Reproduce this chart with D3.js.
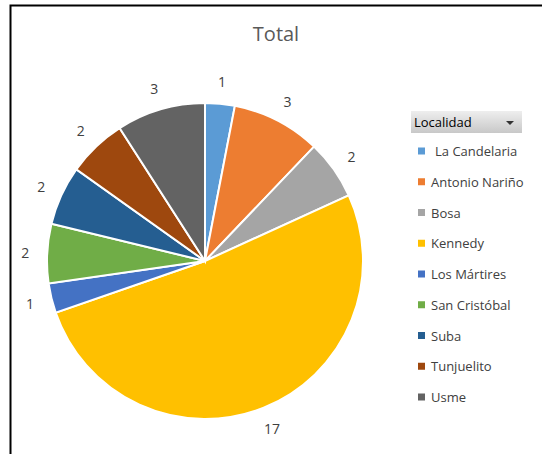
<!DOCTYPE html>
<html>
<head>
<meta charset="utf-8">
<script src="https://cdn.jsdelivr.net/npm/d3@7"></script>
<style>
    body { margin: 0; background: #fff; }
    text { font-family: "Open Sans", "Noto Sans", sans-serif; }
</style>
</head>
<body>
<svg id="chart" width="542" height="454"></svg>
<script>
const localidades = ["La Candelaria", "Antonio Nariño", "Bosa", "Kennedy", "Los Mártires",
    "San Cristóbal", "Suba", "Tunjuelito", "Usme"];
const totales = [1, 3, 2, 17, 1, 2, 2, 2, 3];
const colores = ["#5B9BD5", "#ED7D31", "#A5A5A5", "#FFC000", "#4472C4",
    "#70AD47", "#255E91", "#9E480E", "#636363"];

const svg = d3.select("#chart");

// chart frame (left and top edges visible)
svg.append("rect")
    .attr("x", 10.5)
    .attr("y", 5.5)
    .attr("width", 600)
    .attr("height", 500)
    .attr("fill", "none")
    .attr("stroke", "#000")
    .attr("stroke-width", 2);

svg.append("text")
    .attr("x", 276)
    .attr("y", 41)
    .attr("text-anchor", "middle")
    .attr("font-size", 20)
    .attr("fill", "#595959")
    .text("Total");

const cx = 205, cy = 261, radius = 158;
const data = localidades.map((name, i) => ({ name, value: totales[i], color: colores[i] }));

const pie = d3.pie().sort(null).value((d) => d.value);
const arc = d3.arc().innerRadius(0).outerRadius(radius);
const labelArc = d3.arc().innerRadius(radius + 22).outerRadius(radius + 22);

const g = svg.append("g").attr("transform", `translate(${cx},${cy})`);
const arcs = pie(data);

g.selectAll("path")
    .data(arcs)
    .enter()
    .append("path")
    .attr("d", arc)
    .attr("fill", (d) => d.data.color)
    .attr("stroke", "#fff")
    .attr("stroke-width", 2);

g.selectAll("text")
    .data(arcs)
    .enter()
    .append("text")
    .attr("transform", (d) => `translate(${labelArc.centroid(d)})`)
    .attr("text-anchor", "middle")
    .attr("dominant-baseline", "central")
    .attr("font-size", 14)
    .attr("fill", "#404040")
    .text((d) => d.data.value);

// legend
const legend = svg.append("g").attr("transform", "translate(411,111)");
const grad = svg.append("defs").append("linearGradient")
    .attr("id", "hdr")
    .attr("x1", 0).attr("y1", 0).attr("x2", 0).attr("y2", 1);
grad.append("stop").attr("offset", "0%").attr("stop-color", "#eeeeee");
grad.append("stop").attr("offset", "100%").attr("stop-color", "#c8c8c8");

legend.append("rect")
    .attr("width", 111)
    .attr("height", 22)
    .attr("fill", "url(#hdr)");
legend.append("text")
    .attr("x", 3)
    .attr("y", 16)
    .attr("font-size", 13)
    .attr("fill", "#000")
    .text("Localidad");
legend.append("path")
    .attr("d", "M95,10 L103,10 L99,14 Z")
    .attr("fill", "#333");

const legendY = d3.scaleLinear().domain([0, localidades.length - 1]).range([40, 286]);
const items = legend.selectAll("g.item")
    .data(data)
    .enter()
    .append("g")
    .attr("class", "item")
    .attr("transform", (d, i) => `translate(0,${legendY(i)})`);
items.append("rect")
    .attr("x", 7)
    .attr("y", -3.5)
    .attr("width", 7)
    .attr("height", 7)
    .attr("fill", (d) => d.color);
items.append("text")
    .attr("x", (d, i) => (i === 0 ? 24 : 20))
    .attr("dominant-baseline", "central")
    .attr("font-size", 13)
    .attr("fill", "#404040")
    .text((d) => d.name);
</script>
</body>
</html>
